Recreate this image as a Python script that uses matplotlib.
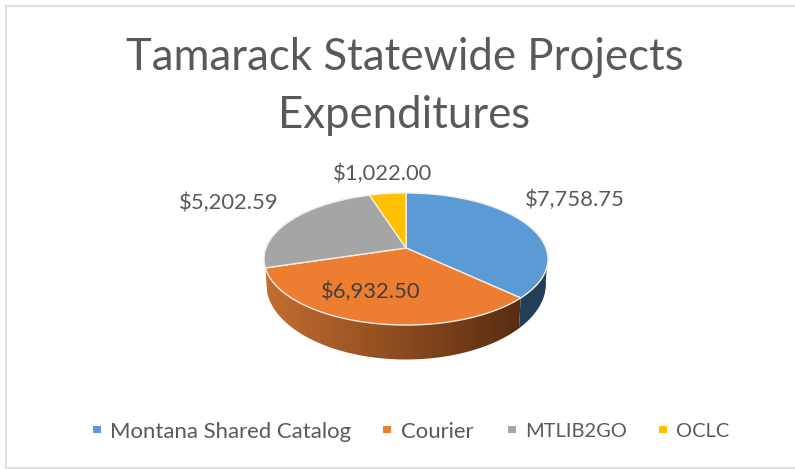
import numpy as np
import matplotlib
matplotlib.use("Agg")
import matplotlib.pyplot as plt
from matplotlib.patches import Polygon, Rectangle

plt.rcParams['font.family'] = ['Lato', 'DejaVu Sans']

categories = ["Montana Shared Catalog", "Courier", "MTLIB2GO", "OCLC"]
values = [7758.75, 6932.50, 5202.59, 1022.00]
value_labels = ["$7,758.75", "$6,932.50", "$5,202.59", "$1,022.00"]
colors = ["#5B9BD5", "#ED7D31", "#A5A5A5", "#FFC000"]
text_color = "#595959"

# pixel coordinates, so everything lines up with the 795x469 picture
fig = plt.figure(figsize=(7.95, 4.69), dpi=100)
ax = fig.add_axes([0, 0, 1, 1])
ax.axis("off")

# frame runs off the right side of the picture
ax.add_patch(Rectangle((6, 6), 800, 462, fc="white", ec="#DDDDDD", lw=1.3))


# perspective projection of the unit circle onto the top / bottom of the pie
def project(theta, a, h, y0, cx=406, k=1 / 6):
    X = np.sin(theta)
    Y = np.cos(theta)
    d = 1 + k * Y
    return np.column_stack((cx + a * X / d, y0 - h * Y / d))


def top(theta):
    return project(theta, 140, 64.2, 248)


def bottom(theta):
    return project(theta, 138, 74, 270.7)


total = sum(values)
edges = np.concatenate(([0], np.cumsum(values))) / total * 2 * np.pi

# side wall: only the part of each slice facing the viewer
wall_blue = np.linspace(np.radians(97), edges[1], 60)
blue_wall = np.vstack((top(wall_blue), bottom(wall_blue)[::-1]))
ax.add_patch(Polygon(blue_wall, fc="#233F58", ec="none", zorder=2))

wall_orange = np.linspace(edges[1], edges[2], 160)
orange_wall = np.vstack((top(wall_orange), bottom(wall_orange)[::-1]))
clip = Polygon(orange_wall, fc="none", ec="none", zorder=2)
ax.add_patch(clip)

# brightest part sits left, the darkest near the right end of the wall
grad = np.linspace(0, 1, 256)
start = np.array([196, 110, 48])
end = np.array([88, 44, 16])
grad_img = (start + (end - start) * grad[:, None])[None, :, :] / 255
im = ax.imshow(grad_img, extent=(265, 522, 360, 268), aspect="auto", zorder=2)
im.set_clip_path(clip)

ax.set_xlim(0, 795)
ax.set_ylim(469, 0)

# top face
for i, color in enumerate(colors):
    th = np.linspace(edges[i], edges[i + 1], 120)
    pts = np.vstack(([[406, 248]], top(th)))
    ax.add_patch(Polygon(pts, fc=color, ec="#F4EDE6", lw=1.0, zorder=3, joinstyle="round"))

# data labels
ax.text(575, 199.5, value_labels[0], fontsize=15.8, color=text_color, ha="center", va="center", zorder=4)
ax.text(371, 292, value_labels[1], fontsize=15.8, color="#404040", ha="center", va="center", zorder=4)
ax.text(229, 202.5, value_labels[2], fontsize=15.8, color=text_color, ha="center", va="center", zorder=4)
ax.text(383, 173.5, value_labels[3], fontsize=15.8, color=text_color, ha="center", va="center", zorder=4)

# title
ax.text(405, 58, "Tamarack Statewide Projects", fontsize=31.5, color=text_color, ha="center", va="center")
ax.text(404, 116, "Expenditures", fontsize=31.5, color=text_color, ha="center", va="center")

# legend, Lato runs wide on the capitals so the last two entries are a bit smaller
legend_marks = [97, 387, 512, 663]
legend_text = [110, 401, 525, 676]
legend_sizes = [15.9, 15.9, 14.4, 14.4]
for name, color, mx, tx, size in zip(categories, colors, legend_marks, legend_text, legend_sizes):
    ax.add_patch(Rectangle((mx - 4, 426), 7.5, 7.5, fc=color, ec="none"))
    ax.text(tx, 431.5, name, fontsize=size, color=text_color, ha="left", va="center")

fig.savefig("out.png", dpi=100)
